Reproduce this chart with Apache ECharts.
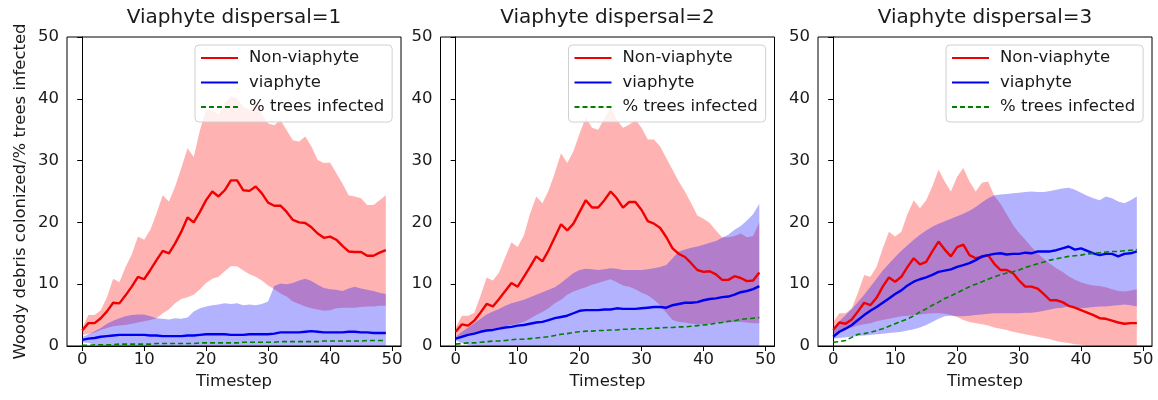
<!DOCTYPE html>
<html>
<head>
<meta charset="utf-8">
<script src="https://cdn.jsdelivr.net/npm/echarts@6.0.0/dist/echarts.min.js"></script>
<style>
  html, body { margin: 0; padding: 0; background: #fff; }
  #chart { width: 1158px; height: 400px; }
</style>
</head>
<body>
<div id="chart"></div>
<script>
const steps = Array.from({ length: 50 }, (_, i) => i);
const xTicks = [0, 10, 20, 30, 40, 50];
const titles = ['Viaphyte dispersal=1', 'Viaphyte dispersal=2', 'Viaphyte dispersal=3'];
const legendNames = ['Non-viaphyte', 'viaphyte', '% trees infected'];

// dispersal = 1
const nonVia1 = [2.5, 3.7, 3.7, 4.5, 5.6, 7.0, 6.9, 8.2, 9.6, 11.2,
    10.8, 12.3, 13.9, 15.4, 15.0, 16.6, 18.5, 20.8, 20.0, 21.7,
    23.6, 25.0, 24.2, 25.2, 26.8, 26.8, 25.2, 25.1, 25.8, 24.7,
    23.2, 22.7, 22.7, 21.7, 20.4, 20.0, 19.9, 19.2, 18.2, 17.5,
    17.7, 17.2, 16.2, 15.3, 15.2, 15.2, 14.6, 14.6, 15.1, 15.5];
const nonViaHi1 = [2.9, 5.0, 5.0, 5.8, 7.9, 10.9, 10.3, 12.8, 14.8, 17.7,
    17.2, 18.8, 21.5, 24.4, 23.4, 25.8, 28.8, 32.0, 30.6, 34.9,
    38.2, 38.2, 37.4, 39.3, 40.4, 40.1, 38.7, 38.2, 39.5, 37.6,
    36.0, 35.7, 36.6, 34.9, 33.3, 33.1, 33.9, 32.3, 30.1, 29.6,
    29.7, 28.0, 26.3, 24.4, 24.2, 23.9, 22.8, 22.8, 23.6, 24.4];
const nonViaLo1 = [1.8, 2.0, 2.2, 2.6, 2.9, 3.2, 3.3, 3.4, 3.6, 3.8,
    4.0, 4.2, 4.5, 5.3, 5.9, 6.9, 7.6, 7.9, 8.3, 9.2,
    10.2, 10.9, 11.2, 12.1, 12.9, 12.9, 12.2, 11.6, 11.2, 10.6,
    9.8, 9.2, 8.5, 8.0, 7.2, 6.8, 6.4, 6.1, 5.9, 5.7,
    5.8, 6.1, 6.2, 6.2, 6.2, 6.3, 6.4, 6.4, 6.5, 6.5];
const via1 = [1.0, 1.2, 1.3, 1.5, 1.6, 1.7, 1.8, 1.8, 1.8, 1.8,
    1.8, 1.7, 1.7, 1.6, 1.6, 1.6, 1.6, 1.7, 1.7, 1.8,
    1.9, 1.9, 1.9, 1.9, 1.8, 1.8, 1.8, 1.9, 1.9, 1.9,
    1.9, 2.0, 2.2, 2.2, 2.2, 2.2, 2.3, 2.4, 2.3, 2.2,
    2.2, 2.2, 2.2, 2.3, 2.3, 2.2, 2.2, 2.1, 2.1, 2.1];
const viaHi1 = [1.4, 1.9, 2.4, 2.9, 3.6, 4.1, 4.5, 4.8, 5.0, 5.1,
    5.1, 4.8, 4.5, 4.4, 4.3, 4.5, 4.4, 4.6, 5.6, 6.1,
    6.4, 6.6, 6.7, 6.9, 6.8, 6.9, 6.6, 6.7, 6.6, 6.8,
    7.2, 9.7, 10.1, 10.0, 10.2, 10.6, 10.9, 10.5, 9.9, 9.4,
    9.2, 9.1, 8.9, 9.3, 9.6, 9.3, 9.1, 8.9, 8.6, 8.4];
const viaLo1 = [0.6, 0.5, 0.2, 0, 0, 0, 0, 0, 0, 0,
    0, 0, 0, 0, 0, 0, 0, 0, 0, 0,
    0, 0, 0, 0, 0, 0, 0, 0, 0, 0,
    0, 0, 0, 0, 0, 0, 0, 0, 0, 0,
    0, 0, 0, 0, 0, 0, 0, 0, 0, 0];
const infected1 = [0.1, 0.1, 0.2, 0.2, 0.2, 0.2, 0.3, 0.3, 0.3, 0.3,
    0.3, 0.3, 0.4, 0.4, 0.4, 0.4, 0.4, 0.4, 0.4, 0.5,
    0.5, 0.5, 0.5, 0.5, 0.5, 0.5, 0.6, 0.6, 0.6, 0.6,
    0.6, 0.6, 0.7, 0.7, 0.7, 0.7, 0.7, 0.7, 0.7, 0.8,
    0.8, 0.8, 0.8, 0.8, 0.8, 0.8, 0.9, 0.9, 0.9, 0.9];

// dispersal = 2
const nonVia2 = [2.3, 3.5, 3.3, 4.1, 5.4, 6.8, 6.4, 7.6, 8.9, 10.2,
    9.6, 11.2, 12.8, 14.5, 13.7, 15.5, 17.6, 19.7, 18.7, 19.8,
    21.7, 23.6, 22.4, 22.4, 23.6, 25.0, 23.9, 22.4, 23.3, 23.3,
    22.0, 20.2, 19.8, 19.1, 17.6, 15.8, 14.9, 14.4, 13.4, 12.3,
    12.0, 12.1, 11.6, 10.7, 10.7, 11.3, 11.0, 10.5, 10.6, 11.9];
const nonViaHi2 = [3.0, 4.9, 4.9, 5.4, 8.1, 11.1, 10.6, 11.9, 14.4, 16.8,
    16.0, 17.9, 21.4, 24.2, 23.1, 25.2, 28.0, 31.2, 29.6, 31.5,
    34.4, 37.0, 35.3, 35.0, 36.8, 38.6, 36.6, 35.3, 35.8, 36.6,
    35.3, 33.4, 33.4, 32.3, 30.4, 28.5, 26.6, 25.0, 23.1, 21.1,
    20.6, 19.9, 18.7, 17.6, 17.6, 17.8, 18.2, 17.6, 17.8, 20.0];
const nonViaLo2 = [1.5, 1.8, 2.0, 2.2, 2.4, 2.6, 2.8, 3.0, 3.2, 3.4,
    3.6, 3.9, 4.4, 5.0, 5.5, 6.1, 6.9, 7.5, 8.3, 8.8,
    9.2, 9.5, 9.9, 10.2, 10.5, 10.8, 10.3, 9.8, 9.6, 9.2,
    8.6, 8.2, 7.5, 6.6, 5.4, 4.2, 3.9, 3.8, 3.6, 3.5,
    3.5, 3.6, 3.8, 3.8, 3.8, 3.9, 3.9, 3.8, 3.7, 3.7];
const via2 = [1.2, 1.5, 1.8, 2.0, 2.3, 2.5, 2.6, 2.8, 3.0, 3.1,
    3.3, 3.4, 3.6, 3.8, 3.9, 4.2, 4.5, 4.7, 4.9, 5.3,
    5.7, 5.8, 5.8, 5.8, 5.9, 5.9, 6.1, 6.0, 6.0, 6.0,
    6.1, 6.2, 6.3, 6.3, 6.2, 6.6, 6.8, 7.0, 7.0, 7.1,
    7.4, 7.6, 7.7, 7.9, 8.0, 8.3, 8.7, 8.9, 9.2, 9.7];
const viaHi2 = [1.5, 2.3, 3.0, 3.7, 4.4, 5.1, 5.6, 6.0, 6.5, 6.9,
    7.2, 7.5, 7.9, 8.3, 8.7, 9.1, 9.5, 10.2, 11.0, 11.8,
    12.3, 12.5, 12.4, 12.3, 12.4, 12.6, 12.5, 12.3, 12.3, 12.3,
    12.3, 12.4, 12.6, 12.8, 13.1, 14.2, 15.3, 15.6, 15.9, 16.1,
    16.4, 16.7, 17.0, 17.5, 18.0, 18.8, 19.4, 20.3, 21.3, 23.0];
const viaLo2 = [0.9, 0.5, 0.2, 0, 0, 0, 0, 0, 0, 0,
    0, 0, 0, 0, 0, 0, 0, 0, 0, 0,
    0, 0, 0, 0, 0, 0, 0, 0, 0, 0,
    0, 0, 0, 0, 0, 0, 0, 0, 0, 0,
    0, 0, 0, 0, 0, 0, 0, 0, 0, 0];
const infected2 = [0.3, 0.4, 0.5, 0.5, 0.6, 0.7, 0.8, 0.8, 0.9, 1.0,
    1.1, 1.1, 1.2, 1.3, 1.4, 1.5, 1.7, 1.9, 2.0, 2.2,
    2.3, 2.4, 2.4, 2.5, 2.5, 2.6, 2.6, 2.7, 2.7, 2.8,
    2.8, 2.8, 2.9, 2.9, 3.0, 3.0, 3.1, 3.1, 3.2, 3.3,
    3.4, 3.5, 3.7, 3.8, 4.0, 4.1, 4.3, 4.4, 4.5, 4.6];

// dispersal = 3
const nonVia3 = [2.6, 3.8, 3.6, 4.3, 5.6, 7.0, 6.6, 7.8, 9.6, 11.1,
    10.4, 11.2, 12.8, 14.2, 13.2, 13.6, 15.3, 16.9, 15.6, 14.5,
    16.0, 16.4, 14.7, 14.2, 14.4, 14.7, 13.3, 12.3, 12.3, 11.8,
    10.6, 9.6, 9.6, 9.3, 8.4, 7.4, 7.4, 7.1, 6.5, 6.2,
    5.8, 5.4, 5.0, 4.5, 4.4, 4.1, 3.8, 3.6, 3.7, 3.7];
const nonViaHi3 = [3.9, 5.3, 5.3, 6.1, 8.6, 11.5, 11.2, 12.8, 15.8, 18.5,
    17.7, 18.5, 21.4, 23.6, 22.3, 23.6, 25.8, 28.5, 26.6, 25.0,
    27.4, 28.8, 26.6, 25.0, 26.4, 26.6, 24.3, 23.0, 21.3, 19.6,
    18.3, 17.2, 16.0, 15.0, 14.1, 13.3, 12.6, 12.0, 11.3, 10.7,
    10.3, 10.0, 9.8, 9.7, 9.5, 9.2, 8.9, 8.8, 9.0, 9.2];
const nonViaLo3 = [1.8, 2.3, 2.7, 3.0, 3.3, 3.5, 3.7, 4.0, 4.2, 4.4,
    4.6, 4.8, 4.9, 5.0, 5.1, 5.2, 5.3, 5.3, 5.2, 5.0,
    4.7, 4.2, 3.9, 3.7, 3.5, 3.3, 3.0, 2.8, 2.6, 2.3,
    2.1, 1.9, 1.7, 1.5, 1.3, 1.1, 0.8, 0.6, 0.5, 0.3,
    0.2, 0.1, 0, 0, 0, 0, 0, 0, 0, 0];
const via3 = [1.5, 2.3, 2.8, 3.4, 4.2, 5.0, 5.7, 6.3, 7.0, 7.7,
    8.4, 9.0, 9.8, 10.4, 10.8, 11.1, 11.5, 12.0, 12.2, 12.4,
    12.8, 13.1, 13.4, 13.9, 14.5, 14.7, 14.9, 15.0, 14.8, 14.9,
    14.9, 15.1, 15.0, 15.3, 15.3, 15.3, 15.5, 15.8, 16.1, 15.6,
    15.8, 15.4, 15.0, 14.7, 14.9, 14.9, 14.5, 14.9, 15.0, 15.3];
const viaHi3 = [3.0, 4.0, 5.0, 6.0, 7.1, 8.3, 9.6, 10.9, 12.2, 13.3,
    14.4, 15.4, 16.3, 17.2, 18.0, 18.7, 19.3, 19.8, 20.2, 20.6,
    21.0, 21.4, 21.9, 22.5, 23.2, 23.9, 24.4, 24.5, 24.6, 24.7,
    24.8, 24.9, 25.0, 24.9, 24.9, 25.1, 25.3, 25.5, 25.6, 25.3,
    24.8, 24.3, 23.9, 23.6, 24.2, 23.9, 23.4, 23.1, 23.6, 24.2];
const viaLo3 = [1.2, 1.3, 1.4, 1.5, 1.6, 1.7, 1.8, 1.9, 2.0, 2.1,
    2.2, 2.3, 2.5, 2.7, 3.0, 3.4, 3.9, 4.4, 4.8, 4.9,
    4.8, 4.8, 4.9, 5.0, 5.1, 5.2, 5.3, 5.3, 5.3, 5.3,
    5.3, 5.4, 5.4, 5.5, 5.7, 5.9, 6.1, 6.2, 6.4, 6.3,
    6.1, 6.2, 6.3, 6.4, 6.4, 6.5, 6.6, 6.7, 6.6, 6.4];
const infected3 = [0.6, 0.7, 0.9, 1.4, 1.9, 2.0, 2.2, 2.5, 2.8, 3.2,
    3.6, 4.0, 4.4, 4.9, 5.5, 6.0, 6.6, 7.1, 7.7, 8.1,
    8.6, 9.1, 9.6, 10.0, 10.4, 10.8, 11.2, 11.5, 11.8, 12.0,
    12.3, 12.7, 13.0, 13.3, 13.6, 13.9, 14.1, 14.3, 14.5, 14.6,
    14.7, 14.9, 15.0, 15.1, 15.2, 15.3, 15.3, 15.4, 15.5, 15.6];

const panels = [
    { nv: nonVia1, nvHi: nonViaHi1, nvLo: nonViaLo1, v: via1, vHi: viaHi1, vLo: viaLo1, inf: infected1 },
    { nv: nonVia2, nvHi: nonViaHi2, nvLo: nonViaLo2, v: via2, vHi: viaHi2, vLo: viaLo2, inf: infected2 },
    { nv: nonVia3, nvHi: nonViaHi3, nvLo: nonViaLo3, v: via3, vHi: viaHi3, vLo: viaLo3, inf: infected3 }
];

const myChart = echarts.init(document.getElementById('chart'));
const gridLefts = [67, 440.5, 818];
const gridW = 334;
const ink = '#1a1a1a';
const axisLine = { show: true, lineStyle: { color: '#000', width: 1 } };

// shaded band between lo and hi, drawn as one polygon through the axes
const band = (gi, lo, hi, color) => ({
    type: 'custom',
    xAxisIndex: gi,
    yAxisIndex: gi,
    silent: true,
    data: [[0, 0]],
    renderItem: (params, api) => {
        const pts = [];
        for (let i = 0; i < steps.length; i++) pts.push(api.coord([steps[i], hi[i]]));
        for (let i = steps.length - 1; i >= 0; i--) pts.push(api.coord([steps[i], lo[i]]));
        return { type: 'polygon', shape: { points: pts }, style: { fill: color } };
    }
});

const line = (gi, name, vals, color, width, type) => ({
    type: 'line',
    name: name,
    xAxisIndex: gi,
    yAxisIndex: gi,
    data: steps.map((t, i) => [t, vals[i]]),
    symbol: 'none',
    itemStyle: { color: color },
    lineStyle: { color: color, width: width, type: type },
    z: 5
});

const grid = [], xAxis = [], yAxis = [], series = [], title = [], legend = [];
panels.forEach((p, gi) => {
    grid.push({
        left: gridLefts[gi], top: 37, width: gridW, height: 309,
        show: true, borderColor: '#000', borderWidth: 1, backgroundColor: 'transparent'
    });
    xAxis.push({
        type: 'value', gridIndex: gi, min: -2.45, max: 51.45,
        name: 'Timestep', nameLocation: 'middle', nameGap: 20,
        nameTextStyle: { fontSize: 16.5, color: ink },
        axisLine: axisLine,
        axisTick: { customValues: xTicks, length: 5, lineStyle: { color: '#000' } },
        axisLabel: { customValues: xTicks, margin: 5, fontSize: 16.5, color: ink },
        splitLine: { show: false }
    });
    yAxis.push({
        type: 'value', gridIndex: gi, min: 0, max: 50, interval: 10,
        name: gi === 0 ? 'Woody debris colonized/% trees infected' : '',
        nameLocation: 'middle', nameGap: 38, nameRotate: 90,
        nameTextStyle: { fontSize: 16.5, color: ink },
        axisLine: axisLine,
        axisTick: { length: 5, lineStyle: { color: '#000' } },
        axisLabel: { margin: 8, fontSize: 16.5, color: ink },
        splitLine: { show: false }
    });
    series.push(band(gi, p.nvLo, p.nvHi, 'rgba(255,0,0,0.3)'));
    series.push(band(gi, p.vLo, p.vHi, 'rgba(0,0,255,0.3)'));
    series.push(line(gi, 'Non-viaphyte', p.nv, '#f00000', 2.4, 'solid'));
    series.push(line(gi, 'viaphyte', p.v, '#0000f0', 2.4, 'solid'));
    series.push(line(gi, '% trees infected', p.inf, '#008000', 1.6, [5, 3]));
    title.push({
        text: titles[gi],
        left: gridLefts[gi] + gridW / 2, top: 8, textAlign: 'center', padding: 0,
        textStyle: { fontSize: 20, fontWeight: 'normal', color: ink }
    });
    legend.push({
        data: legendNames,
        orient: 'vertical',
        left: gridLefts[gi] + 128, top: 45,
        padding: [4, 8, 6, 5],
        itemGap: 6.5,
        itemWidth: 37,
        itemHeight: 18,
        itemStyle: { opacity: 0 },
        backgroundColor: 'rgba(255,255,255,0.8)',
        borderColor: '#d0d0d0', borderWidth: 1, borderRadius: 4,
        selectedMode: false,
        textStyle: { fontSize: 16.5, color: ink, lineHeight: 18, padding: [0, 0, 0, 6] }
    });
});

const option = {
    animation: false,
    textStyle: { fontFamily: 'DejaVu Sans' },
    title: title,
    legend: legend,
    grid: grid,
    xAxis: xAxis,
    yAxis: yAxis,
    series: series
};
myChart.setOption(option);
</script>
</body>
</html>
